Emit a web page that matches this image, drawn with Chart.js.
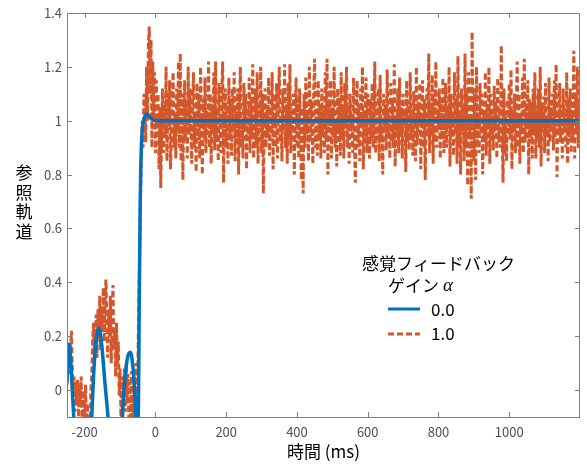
<!DOCTYPE html>
<html>
<head>
<meta charset="utf-8">
<script src="https://cdn.jsdelivr.net/npm/chart.js@4"></script>
<style>
  body { margin: 0; background: #fff; }
</style>
</head>
<body>
<canvas id="chart" width="587" height="473"></canvas>
<script>
const xTicks = [-200, 0, 200, 400, 600, 800, 1000];
const yTicks = [0, 0.2, 0.4, 0.6, 0.8, 1, 1.2, 1.4];

const legendTitle = ['感覚フィードバック', 'ゲイン'];
const seriesNames = ['0.0', '1.0'];

// alpha = 0.0 : smooth reference trajectory
const blueTimes = [-250, -247, -244, -240, -235, -231, -225, -205, -185, -180, -175, -168, -160, -152, -143, -134, -125, -110, -100, -94,
  -87, -79, -71, -64, -59, -55, -52, -48, -46, -43, -40, -36, -30, -23, -15, -6, 0, 1200];
const blueValues = [0.03, 0.13, 0.17, 0.12, 0.0, -0.1, -0.25, -0.4, -0.25, -0.1, 0.05, 0.18, 0.23, 0.17, 0.03, -0.1, -0.25, -0.35, -0.22, -0.1,
  0.03, 0.12, 0.14, 0.09, 0.0, -0.1, -0.14, -0.05, 0.3, 0.7, 0.9, 0.98, 1.015, 1.025, 1.012, 1.002, 1.0, 1.0];

// alpha = 1.0 : noisy trajectory, one sample every 2.5 ms from -250 ms
const orangeStart = -250;
const orangeStep = 2.5;
const orangeValues = [
  // -250 .. -32.5
  0.02, 0.1, 0.18, 0.06, 0.15, 0.22, 0.08, -0.02, 0.05, -0.08, 0.03, -0.05, 0.04, -0.1, 0.02, -0.06, 0.05, -0.12, 0.0, -0.08,
  -0.12, 0.02, -0.15, -0.05, -0.15, -0.12, -0.2, 0.0, 0.05, 0.18, 0.25, 0.1, 0.22, 0.28, 0.12, 0.3, 0.2, 0.35, 0.15, 0.3,
  0.22, 0.38, 0.18, 0.33, 0.41, 0.25, 0.12, 0.3, 0.2, 0.35, 0.1, 0.28, 0.39, 0.15, 0.22, 0.05, 0.25, 0.1, 0.18, -0.02,
  0.08, -0.1, 0.05, -0.12, 0.02, 0.08, -0.08, 0.1, -0.05, 0.06, -0.12, 0.03, -0.1, 0.07, 0.0, -0.12, 0.05, -0.08, 0.1, -0.05,
  0.05, 0.3, 0.5, 0.7, 0.85, 1.0, 0.9, 1.1,
  // -30 .. 1200
  1.05, 0.92, 1.2, 1.0, 1.28, 1.35, 1.1, 1.3, 0.9, 1.22, 1.02, 1.18, 0.88, 1.15, 0.95, 1.1, 0.82, 1.05, 0.75, 0.95,
  1.12, 0.88, 1.05, 0.94, 1.2, 0.85, 1.1, 0.98, 1.15, 0.82, 0.95, 1.08, 1.18, 0.9, 1.02, 0.86, 1.12, 0.96, 1.22, 0.9,
  1.25, 0.85, 1.1, 0.78, 1.04, 1.15, 0.92, 1.08, 0.86, 1.2, 0.95, 1.12, 0.98, 0.84, 1.06, 1.18, 0.9, 1.02, 0.81, 1.14,
  0.94, 1.1, 0.86, 1.2, 1.0, 0.8, 1.08, 0.93, 1.16, 0.88, 1.04, 0.97, 1.22, 0.9, 1.1, 0.84, 1.06, 0.95, 1.18, 0.89,
  1.22, 0.92, 1.05, 0.85, 1.14, 0.98, 0.88, 1.1, 1.22, 0.77, 1.0, 1.12, 0.9, 1.06, 0.84, 1.16, 0.95, 1.08, 0.87, 1.12,
  0.96, 1.18, 0.85, 1.04, 0.92, 1.12, 0.8, 1.06, 1.2, 0.9, 1.0, 0.86, 1.14, 0.97, 1.1, 0.82, 1.05, 0.93, 1.16, 0.88,
  1.08, 0.95, 1.21, 0.86, 1.02, 1.12, 0.9, 1.18, 0.84, 1.06, 0.96, 1.2, 0.88, 1.1, 0.73, 1.0, 1.12, 0.9, 1.04, 0.94,
  1.16, 0.87, 1.05, 0.95, 1.18, 0.82, 1.1, 0.98, 0.9, 1.14, 0.86, 1.08, 1.2, 0.92, 1.02, 0.85, 1.12, 0.96, 1.21, 0.9,
  1.06, 0.84, 1.14, 0.93, 1.21, 0.88, 1.04, 0.97, 1.1, 0.8, 1.0, 1.16, 0.9, 1.08, 0.86, 1.12, 0.95, 0.78, 1.05, 0.73,
  1.1, 0.9, 1.16, 0.95, 1.04, 0.85, 1.2, 0.92, 1.08, 0.98, 0.84, 1.12, 1.23, 0.9, 1.02, 0.87, 1.15, 0.94, 1.06, 0.86,
  1.12, 0.96, 1.04, 0.88, 1.18, 0.92, 1.23, 0.8, 1.08, 0.98, 1.15, 0.86, 1.05, 0.94, 1.2, 0.9, 1.0, 0.83, 1.12, 0.95,
  1.08, 0.87, 1.18, 0.93, 1.04, 0.86, 1.14, 0.97, 1.2, 0.9, 1.06, 0.84, 1.1, 0.96, 1.02, 0.88, 1.16, 0.92, 0.77, 1.05,
  1.15, 0.9, 1.06, 0.85, 1.12, 0.97, 1.2, 0.82, 1.04, 0.94, 1.16, 0.88, 1.1, 0.99, 0.86, 1.08, 0.93, 1.14, 0.9, 1.02,
  1.22, 0.88, 1.05, 0.95, 1.12, 0.85, 1.17, 0.92, 1.0, 0.8, 1.1, 0.96, 1.06, 0.89, 1.19, 0.94, 1.03, 0.86, 1.14, 0.92,
  1.08, 0.9, 1.21, 0.83, 1.02, 0.96, 1.12, 0.88, 1.16, 0.94, 1.05, 0.86, 1.1, 0.98, 1.04, 0.81, 1.15, 0.92, 1.06, 0.89,
  1.18, 0.93, 1.04, 0.87, 1.11, 0.96, 0.85, 1.2, 0.91, 1.07, 0.98, 1.14, 0.82, 1.02, 1.15, 0.9, 1.08, 0.78, 1.0, 1.12,
  0.94, 1.25, 0.88, 1.06, 0.96, 1.17, 0.84, 1.1, 0.92, 1.22, 0.9, 1.04, 0.97, 1.12, 0.86, 1.08, 0.93, 1.16, 0.88, 1.02,
  1.14, 0.9, 1.05, 0.97, 1.2, 0.83, 1.1, 0.94, 1.02, 0.87, 1.18, 0.95, 1.08, 0.84, 1.24, 0.9, 1.04, 0.8, 1.12, 0.96,
  1.06, 0.85, 1.25, 0.9, 1.1, 0.76, 1.18, 0.94, 1.02, 0.71, 1.33, 1.0, 0.85, 1.12, 0.78, 1.2, 0.92, 1.05, 0.88, 1.14,
  0.95, 1.1, 0.8, 1.04, 0.92, 1.18, 0.87, 1.06, 0.98, 1.2, 0.84, 1.1, 0.93, 1.02, 0.89, 1.13, 0.96, 1.07, 0.86, 1.16,
  0.92, 1.05, 0.9, 1.28, 0.95, 0.77, 1.12, 0.88, 1.02, 0.85, 1.08, 0.96, 1.14, 0.93, 1.19, 0.82, 1.04, 0.97, 1.1, 0.88,
  1.06, 1.22, 0.9, 1.1, 0.84, 1.02, 0.95, 1.16, 0.88, 1.23, 0.92, 1.05, 0.97, 1.15, 0.8, 1.08, 0.94, 1.07, 0.86, 1.12,
  0.96, 1.18, 0.86, 1.04, 0.93, 1.12, 0.9, 1.2, 0.83, 1.06, 0.97, 1.09, 0.88, 1.14, 0.95, 1.02, 0.85, 1.16, 0.92, 1.05,
  0.98, 1.1, 0.89, 1.15, 0.94, 1.21, 0.79, 1.04, 0.96, 1.14, 0.92, 1.06, 0.86, 1.12, 0.97, 1.03, 0.9, 1.18, 0.84, 1.08,
  0.94, 1.12, 0.88, 1.04, 0.92, 1.26, 0.86, 1.1, 0.95, 1.2, 0.9, 1.06, 0.93
];

const blue = '#0072BD';
const orange = '#D4562B';
const jpFont = '"Noto Sans CJK JP", "Noto Sans", sans-serif';

const bluePoints = blueTimes.map((t, i) => ({ x: t, y: blueValues[i] }));
const orangePoints = orangeValues.map((v, i) => ({ x: orangeStart + i * orangeStep, y: v }));

// box, inward ticks, axis titles and legend (MATLAB look)
const decorations = {
  id: 'decorations',
  afterDraw(chart) {
    const { ctx, chartArea: a, scales: { x, y } } = chart;
    ctx.save();
    ctx.strokeStyle = '#7f7f7f';
    ctx.lineWidth = 1;
    ctx.strokeRect(Math.round(a.left) + 0.5, Math.round(a.top) + 0.5, Math.round(a.width) - 1, Math.round(a.height));
    ctx.beginPath();
    xTicks.forEach(v => {
      const px = Math.round(x.getPixelForValue(v)) + 0.5;
      ctx.moveTo(px, a.bottom); ctx.lineTo(px, a.bottom - 5);
      ctx.moveTo(px, a.top); ctx.lineTo(px, a.top + 5);
    });
    yTicks.forEach(v => {
      const py = Math.round(y.getPixelForValue(v)) + 0.5;
      ctx.moveTo(a.left, py); ctx.lineTo(a.left + 5, py);
      ctx.moveTo(a.right, py); ctx.lineTo(a.right - 5, py);
    });
    ctx.stroke();

    ctx.fillStyle = '#000';
    ctx.font = '17px ' + jpFont;
    ctx.textBaseline = 'middle';
    ctx.textAlign = 'center';
    ctx.fillText('時間 (ms)', (a.left + a.right) / 2, 452);
    ['参', '照', '軌', '道'].forEach((ch, i) => ctx.fillText(ch, 24, 173 + i * 19.5));

    // legend
    ctx.textAlign = 'left';
    ctx.fillText(legendTitle[0], 362, 264);
    ctx.fillText(legendTitle[1], 388, 286);
    const w = ctx.measureText(legendTitle[1]).width;
    ctx.font = 'italic 19px "Liberation Serif", serif';
    ctx.fillText('α', 388 + w + 4, 286);

    ctx.lineWidth = 3;
    ctx.strokeStyle = blue;
    ctx.beginPath(); ctx.moveTo(388, 309); ctx.lineTo(420, 309); ctx.stroke();
    ctx.strokeStyle = orange;
    ctx.setLineDash([6, 3]);
    ctx.beginPath(); ctx.moveTo(388, 334); ctx.lineTo(420, 334); ctx.stroke();
    ctx.setLineDash([]);
    ctx.font = '17px ' + jpFont;
    ctx.fillText(seriesNames[0], 431, 310);
    ctx.fillText(seriesNames[1], 431, 334);
    ctx.restore();
  }
};

new Chart(document.getElementById('chart'), {
  type: 'line',
  data: {
    datasets: [
      {
        label: seriesNames[0],
        data: bluePoints,
        borderColor: blue,
        borderWidth: 3.5,
        pointRadius: 0,
        cubicInterpolationMode: 'monotone',
        clip: 0
      },
      {
        label: seriesNames[1],
        data: orangePoints,
        borderColor: orange,
        borderWidth: 3,
        borderDash: [6, 3],
        pointRadius: 0,
        tension: 0,
        clip: 0
      }
    ]
  },
  options: {
    responsive: false,
    devicePixelRatio: 1,
    animation: false,
    layout: { padding: { top: 13, right: 7, left: 0, bottom: 0 } },
    plugins: { legend: { display: false }, tooltip: { enabled: false } },
    scales: {
      x: {
        type: 'linear',
        min: -250,
        max: 1200,
        grid: { display: false, drawTicks: false },
        border: { display: false },
        afterBuildTicks: s => { s.ticks = xTicks.map(value => ({ value })); },
        afterFit: s => { s.height = 56; },
        ticks: {
          padding: 7,
          maxRotation: 0,
          color: '#505050',
          font: { size: 13, family: jpFont },
          callback: v => String(v)
        }
      },
      y: {
        min: -0.1,
        max: 1.4,
        grid: { display: false, drawTicks: false },
        border: { display: false },
        afterBuildTicks: s => { s.ticks = yTicks.map(value => ({ value })); },
        afterFit: s => { s.width = 67; },
        ticks: {
          padding: 5,
          color: '#505050',
          font: { size: 13, family: jpFont },
          callback: v => String(+v.toFixed(1))
        }
      }
    }
  },
  plugins: [decorations]
});
</script>
</body>
</html>
